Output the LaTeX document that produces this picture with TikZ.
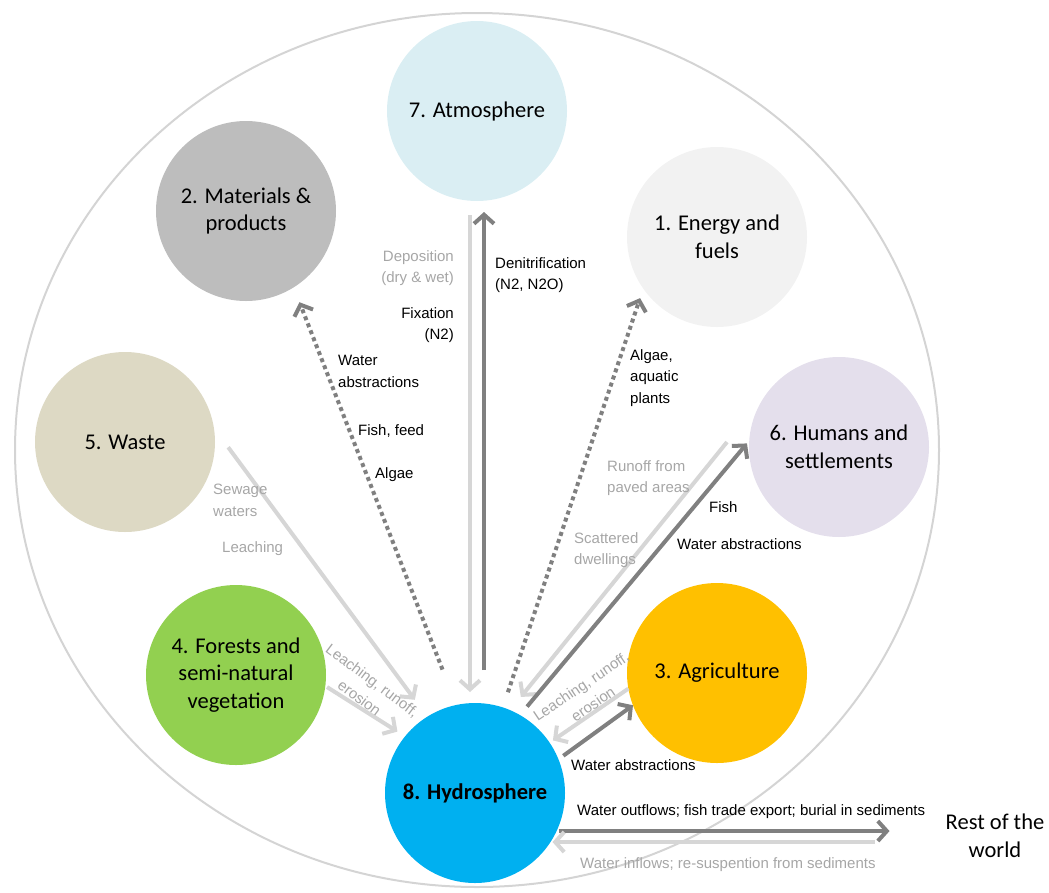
\documentclass[tikz,border=0pt]{standalone}
\usepackage{fontspec}
\setmainfont{Carlito}
\newfontfamily\flowfont{Liberation Sans}
\usetikzlibrary{arrows.meta}
\definecolor{atmocol}{HTML}{DAEEF3}
\definecolor{matercol}{HTML}{BDBDBD}
\definecolor{energycol}{HTML}{F2F2F2}
\definecolor{wastecol}{HTML}{DDD9C4}
\definecolor{humanscol}{HTML}{E4DFEC}
\definecolor{agricol}{HTML}{FFC000}
\definecolor{forestcol}{HTML}{92D050}
\definecolor{hydrocol}{HTML}{00B0F0}
\definecolor{darkflow}{HTML}{808080}
\definecolor{lightflow}{HTML}{D6D6D6}
\definecolor{greytext}{HTML}{A6A6A6}
\definecolor{rimcol}{HTML}{D4D4D4}
\def\sphsize{180pt}
\def\bigfont{\fontsize{22.5}{27.5}\selectfont}
\tikzset{
   sphere/.style={circle, minimum size=\sphsize, inner sep=0pt, outer sep=0pt, align=center, font=\bigfont},
   flowlbl/.style={inner sep=0pt, font=\flowfont\fontsize{15}{21.5}\selectfont, text=black},
   flowlblgrey/.style={flowlbl, text=greytext},
   flowdark/.style={draw=darkflow, line width=4pt, -{Straight Barb[length=9pt, width=20pt]}},
   flowlight/.style={flowdark, draw=lightflow},
   flowdot/.style={flowdark, dash pattern=on 4pt off 3.5pt}
}
\begin{document}
\begin{tikzpicture}[x=1pt, y=-1pt]
\useasboundingbox (0,0) rectangle (1049,892);
\draw[rimcol, line width=2pt] (477,450) ellipse [x radius=462pt, y radius=437pt];
\foreach \nm/\cx/\cy/\col/\txt in {
    atmos/477/111/atmocol/{7. Atmosphere},
    mater/246/211/matercol/{2. Materials \&\\products},
    energy/717/237/energycol/{1. Energy and\\fuels},
    waste/125/442/wastecol/{5. Waste},
    humans/839/447/humanscol/{6. Humans and\\settlements},
    agri/717/673/agricol/{3. Agriculture},
    forest/236/675/forestcol/{4. Forests and\\semi-natural\\vegetation},
    hydro/475/793/hydrocol/{\textbf{8. Hydrosphere}}} {
    \node[sphere, fill=\col] (\nm) at (\cx,\cy) {\txt};
}
\node[inner sep=0pt, align=center, font=\bigfont] (world) at (995,836) {Rest of the\\world};

\draw[flowlight, shorten <=14pt, shorten >=11pt] ([xshift=-7pt]atmos.south) -- ([xshift=-5pt]hydro.north);
\draw[flowdark, shorten <=33pt, shorten >=11pt] ([xshift=9pt]hydro.north) -- ([xshift=7pt]atmos.south);
\draw[flowdot, shorten <=38pt, shorten >=16pt] (hydro.102.5) -- (mater.-58);
\draw[flowdot, shorten <=16pt, shorten >=10pt] (hydro.72.6) -- (energy.-145);
\draw[flowlight, shorten <=24pt, shorten >=21pt] (waste.9) -- (hydro.122);
\draw[flowlight, shorten <=2pt, shorten >=9pt] (forest.-7) -- (hydro.141);
\draw[flowlight, shorten >=17pt] ([xshift=-22pt, yshift=5pt]humans.west) -- (hydro.67.5);
\draw[flowdark, shorten <=11pt, shorten >=3.5pt] (hydro.60) -- (humans.176);
\draw[flowlight, shorten >=4pt] (agri.190) -- (hydro.34);
\draw[flowdark, shorten <=6pt] (hydro.22.5) -- (agri.201);
\draw[flowdark, shorten <=2pt, shorten >=56pt] (hydro.-25.7) -- (hydro.-25.7 -| world.west);
\draw[flowlight, shorten <=71pt, shorten >=2pt] (hydro.-33.7 -| world.west) -- (hydro.-33.7);

\node[flowlblgrey, anchor=north east, align=right] (depo) at (454,250) {Deposition\\(dry \& wet)};
\node[flowlbl, anchor=north east, align=right] (fix) at (454,307) {Fixation\\(N2)};
\node[flowlbl, anchor=north west, align=left] (denit) at (495,257) {Denitrification\\(N2, N2O)};
\node[flowlbl, anchor=north west, align=left] (wabsmat) at (338,355) {Water\\abstractions};
\node[flowlbl, anchor=north west] (fishfeed) at (358,424) {Fish, feed};
\node[flowlbl, anchor=north west] (algaemat) at (375,467) {Algae};
\node[flowlbl, anchor=north west, align=left] (algaeen) at (630,349) {Algae,\\aquatic\\plants};
\node[flowlblgrey, anchor=north west, align=left] (sewage) at (213,484) {Sewage\\waters};
\node[flowlblgrey, anchor=north west] (leachwst) at (222,541) {Leaching};
\node[flowlblgrey, anchor=north west, align=left] (runoff) at (607,460) {Runoff from\\paved areas};
\node[flowlblgrey, anchor=north west, align=left] (scatter) at (574,532) {Scattered\\dwellings};
\node[flowlbl, anchor=north west] (fishhum) at (709,501) {Fish};
\node[flowlbl, anchor=north west] (wabshum) at (677,538) {Water abstractions};
\node[flowlbl, anchor=north west] (wabsagr) at (571,759) {Water abstractions};
\node[flowlblgrey, rotate=-37, align=center] (leachfor) at (366,689) {Leaching, runoff,\\erosion};
\node[flowlblgrey, rotate=34, align=center] (leachagr) at (587,695) {Leaching, runoff,\\erosion};
\node[flowlbl, anchor=north west] (outflow) at (577,804) {Water outflows; fish trade export; burial in sediments};
\node[flowlblgrey, anchor=north west] (inflow) at (580,857) {Water inflows; re-suspention from sediments};
\end{tikzpicture}
\end{document}
